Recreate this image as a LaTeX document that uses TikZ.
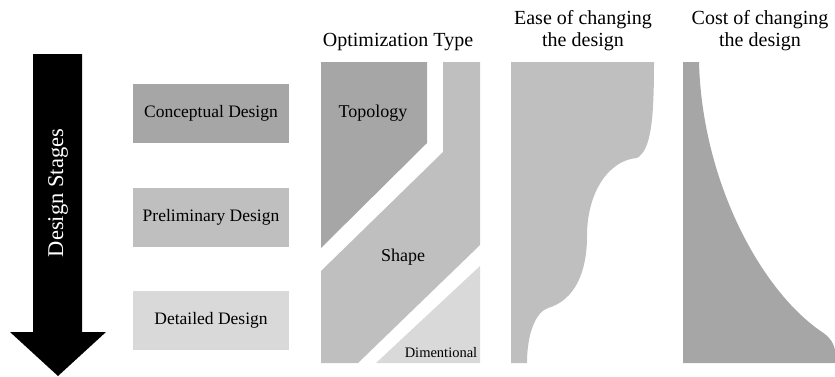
\documentclass[tikz,border=0pt]{standalone}
\usepackage{fontspec}
\setmainfont{Liberation Serif}
\begin{document}
\begin{tikzpicture}[x=1pt,y=-1pt,
  lbl/.style={font=\fontsize{17.5}{20}\selectfont, inner sep=0pt, align=center},
  headlbl/.style={lbl, font=\fontsize{20}{22}\selectfont},
  stagebox/.style={lbl, minimum width=156pt, minimum height=59pt},
]
\definecolor{gdark}{HTML}{A6A6A6}
\definecolor{gmid}{HTML}{BFBFBF}
\definecolor{glight}{HTML}{D9D9D9}
\useasboundingbox (0,0) rectangle (835,376);

% design-stage arrow
\fill[black] (33,54) -- (82,54) -- (82,332) -- (106,332) -- (58,376) -- (10,332) -- (33,332) -- cycle;
\node[lbl, font=\fontsize{22.5}{26}\selectfont, text=white, rotate=90] (stages) at (58,193) {Design Stages};

% stage boxes
\node[stagebox, fill=gdark] (concept) at (211,113.5) {Conceptual Design};
\node[stagebox, fill=gmid] (prelim) at (211,217.5) {Preliminary Design};
\node[stagebox, fill=glight] (detail) at (211,320) {Detailed Design};

% optimization type column
\node[headlbl] (opttitle) at (398,42) {Optimization Type};
\fill[gdark] (321,62) -- (427,62) -- (427,143) -- (321,248) -- cycle;
\fill[gmid] (443,62) -- (480,62) -- (480,245) -- (358,363) -- (321,363) -- (321,271) -- (443,152) -- cycle;
\fill[glight] (376,363) -- (480,363) -- (480,266) -- cycle;
\node[lbl, font=\fontsize{18}{20}\selectfont] (topo) at (373,113) {Topology};
\node[lbl, font=\fontsize{18}{20}\selectfont] (shape) at (403,257) {Shape};
\node[lbl, font=\fontsize{14.5}{17}\selectfont] (dim) at (441,353) {Dimentional};

% ease of changing the design
\node[headlbl] (easetitle) at (583,31) {Ease of changing\\the design};
\fill[gmid] (511,62) -- (654,62)
  .. controls (654,120) and (651,150) .. (637,158)
  .. controls (609,160) and (587,192) .. (587,236)
  .. controls (587,272) and (575,300) .. (548,308)
  .. controls (536,312) and (527,333) .. (527,363)
  -- (511,363) -- cycle;

% cost of changing the design
\node[headlbl] (costtitle) at (760,31) {Cost of changing\\the design};
\fill[gdark] (683,62) -- (699,62)
  .. controls (702,180) and (760,290) .. (822,332)
  .. controls (830,337) and (835,345) .. (835,352)
  -- (835,363) -- (683,363) -- cycle;
\end{tikzpicture}
\end{document}
